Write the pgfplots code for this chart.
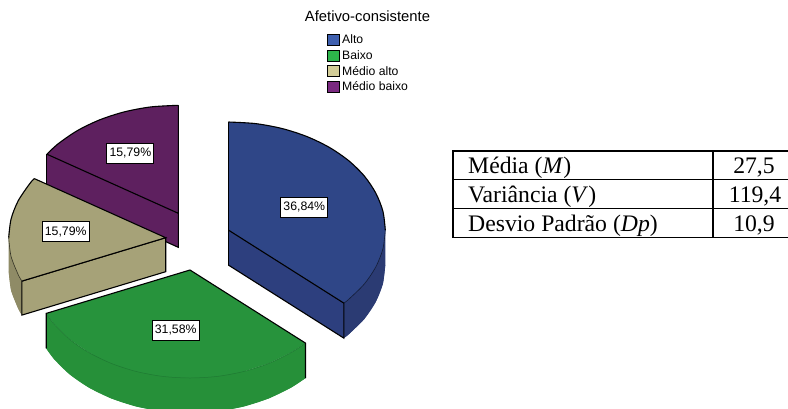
\documentclass[border=0pt]{standalone}
\usepackage{pgfplots}
\usepackage{fontspec}
\pgfplotsset{compat=1.18}
\setmainfont{Liberation Sans}
\newfontfamily\serifcell{Liberation Serif}

\definecolor{altoTop}{HTML}{2F4687}
\definecolor{altoFace}{HTML}{2D3F7E}
\definecolor{altoSide}{HTML}{2B3B73}
\definecolor{baixoTop}{HTML}{27933C}
\definecolor{baixoSide}{HTML}{269039}
\definecolor{baixoRim}{HTML}{1F7A33}
\definecolor{medAltoTop}{HTML}{A6A278}
\definecolor{medAltoSide}{HTML}{8F8B66}
\definecolor{medBaixoTop}{HTML}{5E205F}
\definecolor{legAlto}{HTML}{3E5FAE}
\definecolor{legBaixo}{HTML}{2DB44B}
\definecolor{legMedAlto}{HTML}{D3CD97}
\definecolor{legMedBaixo}{HTML}{7A2980}

\begin{document}
\begin{tikzpicture}[
  pct/.style={draw=black, fill=white, line width=0.9pt, inner sep=0pt,
    minimum width=47pt, minimum height=20pt, font=\fontsize{12.3pt}{14pt}\selectfont},
  cell/.style={font=\serifcell\fontsize{23.7pt}{26pt}\selectfont, inner sep=0pt}]
\path[use as bounding box] (0,0) rectangle (788pt,408pt);
\begin{axis}[
  anchor=south west, at={(0,0)},
  scale only axis, width=788pt, height=408pt,
  xmin=0, xmax=788, ymin=0, ymax=408, y dir=reverse,
  axis lines=none, no markers,
  every axis plot/.append style={forget plot},
  legend style={at={(axis cs:326.7,34.2)}, anchor=north west, draw=none, fill=none,
    inner sep=0pt, outer sep=0pt, row sep=3.7pt,
    font=\fontsize{12.2pt}{12.2pt}\selectfont,
    nodes={inner sep=0pt, anchor=west}},
  legend cell align=left,
  legend image code/.code={\draw[#1, line width=0.9pt] (0pt,-5.5pt) rectangle (12pt,5.5pt);},
]
% legend
\addlegendimage{fill=legAlto, draw=black}
\addlegendentry{\hspace{2.6pt}Alto}
\addlegendimage{fill=legBaixo, draw=black}
\addlegendentry{\hspace{2.6pt}Baixo}
\addlegendimage{fill=legMedAlto, draw=black}
\addlegendentry{\hspace{2.6pt}Médio alto}
\addlegendimage{fill=legMedBaixo, draw=black}
\addlegendentry{\hspace{2.6pt}Médio baixo}

% Médio baixo: front wall, then top
\addplot[fill=medBaixoTop, draw=none] coordinates {(46.9,154.2)(178.3,213.3)(178.3,247.3)(46.9,188.2)};
\addplot[black, line width=1.1pt] coordinates {(46.9,188.2)(46.9,154.2)};
\addplot[black, line width=1.1pt] coordinates {(46.9,188.2)(178.3,247.3)(178.3,105.3)};
\addplot[fill=medBaixoTop, draw=none] coordinates {(178.3,213.3)(46.9,154.2)(58,143.9)(77.4,130.6)(99.8,119.8)(124.6,111.8)(151,106.9)(178.3,105.3)};
\addplot[smooth, fill=medBaixoTop, draw=black, line width=1.1pt] coordinates {(46.9,154.2)(58,143.9)(77.4,130.6)(99.8,119.8)(124.6,111.8)(151,106.9)(178.3,105.3)};
\addplot[black, line width=1.1pt] coordinates {(46.9,154.2)(178.3,213.3)(178.3,105.3)};

% Médio alto: rim, front wall, top
\addplot[fill=medAltoSide, draw=none] coordinates {(8.7,237.7)(11.1,256.5)(18.2,274.6)(21.9,281.1)(21.9,315.1)(18.2,308.6)(11.1,290.5)(8.7,271.7)};
\addplot[smooth, fill=medAltoSide, draw=none] coordinates {(21.9,315.1)(18.2,308.6)(11.1,290.5)(8.7,271.7)};
\addplot[fill=medAltoTop, draw=black, line width=1.1pt] coordinates {(21.9,281.1)(165.7,237.7)(165.7,271.7)(21.9,315.1)(21.9,281.1)};
\addplot[fill=medAltoTop, draw=none] coordinates {(165.7,237.7)(21.9,281.1)(18.2,274.6)(11.1,256.5)(8.7,237.7)(11.1,218.9)(18.2,200.8)(29.7,183.7)(34.3,178.6)};
\addplot[smooth, fill=medAltoTop, draw=none] coordinates {(21.9,281.1)(18.2,274.6)(11.1,256.5)(8.7,237.7)(11.1,218.9)(18.2,200.8)(29.7,183.7)(34.3,178.6)};
\addplot[black, line width=1.1pt] coordinates {(21.9,281.1)(165.7,237.7)(34.3,178.6)};
\addplot[smooth, black, line width=1.1pt] coordinates {(34.3,178.6)(29.7,183.7)(18.2,200.8)(11.1,218.9)(8.7,237.7)};
\addplot[smooth, black!70!medAltoTop, line width=0.6pt] coordinates {(8.7,237.7)(11.1,256.5)(18.2,274.6)(21.9,281.1)};

% Baixo: rim and top, cut off by the page's lower edge
\addplot[fill=baixoSide, draw=none] coordinates {(46.2,313.4)(54,324)(69.7,339.4)(89.1,352.7)(111.5,363.5)(136.3,371.5)(162.7,376.4)(190,378)(217.3,376.4)(243.7,371.5)(268.5,363.5)(290.9,352.7)(305.5,343.1)(305.5,378.1)(290.9,387.7)(268.5,398.5)(243.7,406.5)(217.3,411.4)(190,413)(162.7,411.4)(136.3,406.5)(111.5,398.5)(89.1,387.7)(69.7,374.4)(54,359)(46.2,348.4)};
\addplot[smooth, fill=baixoSide, draw=none] coordinates {(305.5,378.1)(290.9,387.7)(268.5,398.5)(243.7,406.5)(217.3,411.4)(190,413)(162.7,411.4)(136.3,406.5)(111.5,398.5)(89.1,387.7)(69.7,374.4)(54,359)(46.2,348.4)};
\addplot[fill=baixoTop, draw=none] coordinates {(190,270)(305.5,343.1)(290.9,352.7)(268.5,363.5)(243.7,371.5)(217.3,376.4)(190,378)(162.7,376.4)(136.3,371.5)(111.5,363.5)(89.1,352.7)(69.7,339.4)(54,324)(46.2,313.4)};
\addplot[smooth, baixoRim, line width=0.5pt] coordinates {(305.5,343.1)(290.9,352.7)(268.5,363.5)(243.7,371.5)(217.3,376.4)(190,378)(162.7,376.4)(136.3,371.5)(111.5,363.5)(89.1,352.7)(69.7,339.4)(54,324)(46.2,313.4)};
\addplot[black, line width=1.1pt] coordinates {(46.2,348.4)(46.2,313.4)(190,270)(305.5,343.1)(305.5,378.1)};

% Alto: rim, front wall, top
\addplot[fill=altoSide, draw=none] coordinates {(385.3,230)(382.9,248.8)(375.8,266.9)(364.3,284)(348.6,299.4)(343.8,303.1)(343.8,338.1)(348.6,334.4)(364.3,319)(375.8,301.9)(382.9,283.8)(385.3,265)};
\addplot[smooth, fill=altoSide, draw=none] coordinates {(343.8,338.1)(348.6,334.4)(364.3,319)(375.8,301.9)(382.9,283.8)(385.3,265)};
\addplot[fill=altoFace, draw=none] coordinates {(228.3,230)(343.8,303.1)(343.8,338.1)(228.3,265)};
\addplot[fill=altoTop, draw=none] coordinates {(228.3,230)(228.3,122)(255.6,123.6)(282,128.5)(306.8,136.5)(329.2,147.3)(348.6,160.6)(364.3,176)(375.8,193.1)(382.9,211.2)(385.3,230)(382.9,248.8)(375.8,266.9)(364.3,284)(348.6,299.4)(343.8,303.1)};
\addplot[smooth, fill=altoTop, draw=none] coordinates {(228.3,122)(255.6,123.6)(282,128.5)(306.8,136.5)(329.2,147.3)(348.6,160.6)(364.3,176)(375.8,193.1)(382.9,211.2)(385.3,230)(382.9,248.8)(375.8,266.9)(364.3,284)(348.6,299.4)(343.8,303.1)};
\addplot[smooth, black!60!altoTop, line width=0.6pt] coordinates {(385.3,230)(382.9,248.8)(375.8,266.9)(364.3,284)(348.6,299.4)(343.8,303.1)};
\addplot[smooth, black, line width=1.1pt] coordinates {(228.3,122)(255.6,123.6)(282,128.5)(306.8,136.5)(329.2,147.3)(348.6,160.6)(364.3,176)(375.8,193.1)(382.9,211.2)(385.3,230)};
\addplot[black, line width=1.1pt] coordinates {(228.3,122)(228.3,265)};
\addplot[black, line width=1.1pt] coordinates {(228.3,230)(343.8,303.1)(343.8,338.1)(228.3,265)};

% percentage labels
\node[pct] at (axis cs:130.4,153) {15,79\%};
\node[pct] at (axis cs:65.7,231.7) {15,79\%};
\node[pct] at (axis cs:175.7,330.3) {31,58\%};
\node[pct] at (axis cs:304.3,207.3) {36,84\%};

% title
\node[font=\fontsize{14.8pt}{16pt}\selectfont, inner sep=0pt, anchor=base] at (axis cs:367.5,21) {Afetivo-consistente};

% summary statistics table
\draw[black, line width=1.6pt]
  (axis cs:788,151) -- (axis cs:452.7,151) -- (axis cs:452.7,237.3) -- (axis cs:788,237.3)
  (axis cs:452.7,179.3) -- (axis cs:788,179.3)
  (axis cs:452.7,208.3) -- (axis cs:788,208.3)
  (axis cs:712.7,151) -- (axis cs:712.7,237.3);
\node[cell, anchor=base west] at (axis cs:468,173.3) {Média (\textit{M})};
\node[cell, anchor=base west] at (axis cs:468,202.8) {Variância (\textit{V})};
\node[cell, anchor=base west] at (axis cs:468,231) {Desvio Padrão (\textit{Dp})};
\node[cell, anchor=base] at (axis cs:754,173.3) {27,5};
\node[cell, anchor=base] at (axis cs:755,202.8) {119,4};
\node[cell, anchor=base] at (axis cs:754,231) {10,9};
\end{axis}
\end{tikzpicture}
\end{document}
